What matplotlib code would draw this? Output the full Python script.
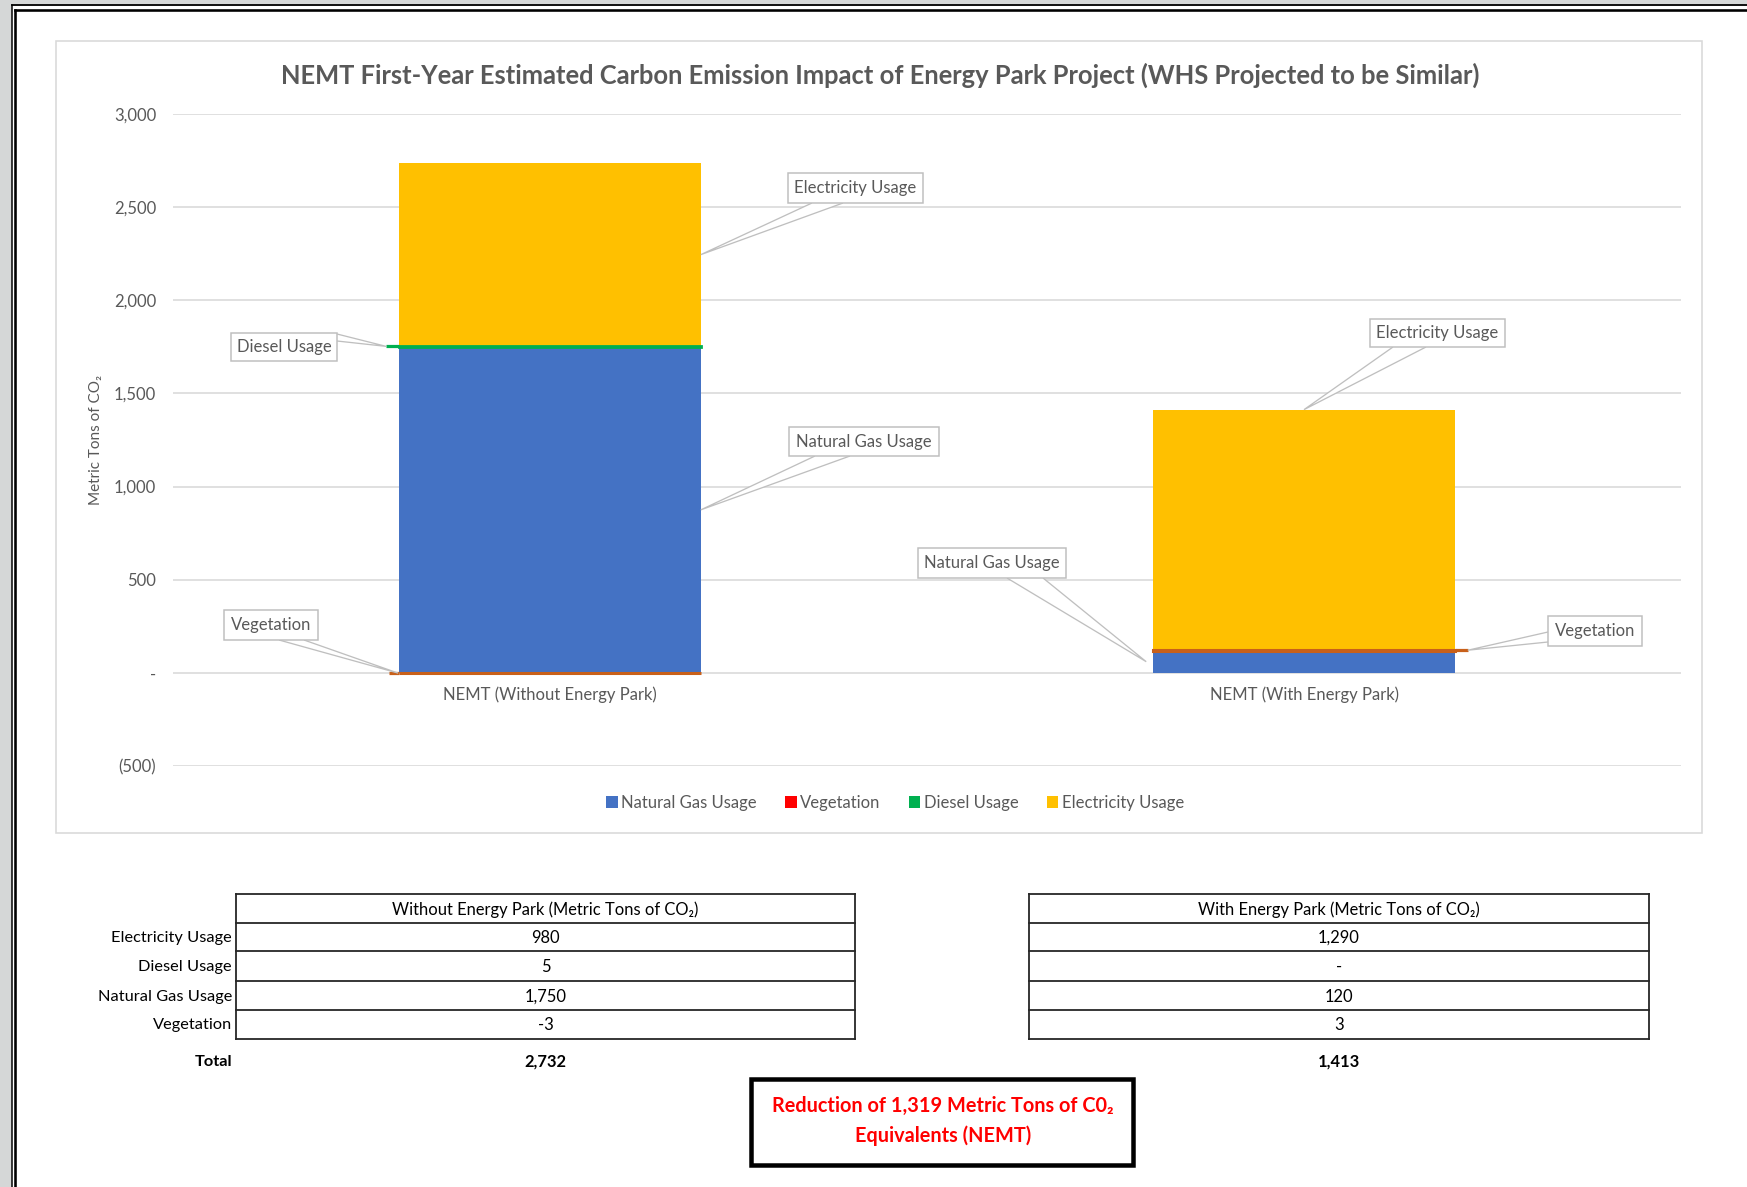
import matplotlib
matplotlib.use("Agg")
import matplotlib.pyplot as plt
from matplotlib.patches import Rectangle, Polygon, Patch
from matplotlib.lines import Line2D

plt.rcParams['font.family'] = ['Lato', 'DejaVu Sans']

# ---------------- data ----------------
categories = ["NEMT (Without Energy Park)", "NEMT (With Energy Park)"]
series_names = ["Natural Gas Usage", "Vegetation", "Diesel Usage", "Electricity Usage"]
natural_gas = [1750, 120]
vegetation = [-3, 3]
diesel = [5, 0]
electricity = [980, 1290]
yticks = [-500, 0, 500, 1000, 1500, 2000, 2500, 3000]

table_rows = ["Electricity Usage", "Diesel Usage", "Natural Gas Usage", "Vegetation"]
table_without = ["980", "5", "1,750", "-3"]
table_with = ["1,290", "-", "120", "3"]
table_totals = ["2,732", "1,413"]
table_headers = ["Without Energy Park (Metric Tons of CO\u2082)", "With Energy Park (Metric Tons of CO\u2082)"]
title = "NEMT First-Year Estimated Carbon Emission Impact of Energy Park Project (WHS Projected to be Similar)"
note_lines = ["Reduction of 1,319 Metric Tons of C0\u2082", "Equivalents (NEMT)"]

# ---------------- styles ----------------
C_NG, C_VEG, C_VEG_EDGE, C_DIE, C_ELEC = "#4472C4", "#FF0000", "#C8601A", "#00B050", "#FFC000"
GRAY_TXT = "#595959"
GRID = "#D9D9D9"

W, H = 1747, 1187
fig = plt.figure(figsize=(W / 100, H / 100), dpi=100)
fig.patch.set_facecolor("#D5D7D7")


def fx(x):
    return x / W


def fy(y):
    return 1 - y / H


def px2pt(p):
    return p * 0.72


# page + frame
fig.add_artist(Rectangle((fx(12), fy(H + 20)), fx(W + 20) - fx(12), fy(6) - fy(H + 20),
                         transform=fig.transFigure, facecolor="white", edgecolor="none", zorder=-10))
fig.add_artist(Line2D([fx(11.5), fx(11.5)], [fy(4.5), fy(H + 10)], transform=fig.transFigure,
                      color="black", lw=px2pt(1.5), zorder=-9))
fig.add_artist(Line2D([fx(11.5), fx(W + 10)], [fy(5), fy(5)], transform=fig.transFigure,
                      color="black", lw=px2pt(1.8), zorder=-9))
fig.add_artist(Line2D([fx(15), fx(15)], [fy(9.5), fy(H + 10)], transform=fig.transFigure,
                      color="black", lw=px2pt(2.6), zorder=-9))
fig.add_artist(Line2D([fx(15), fx(W + 10)], [fy(9.5), fy(9.5)], transform=fig.transFigure,
                      color="black", lw=px2pt(2.6), zorder=-9))

# chart area border
fig.add_artist(Rectangle((fx(56), fy(833)), fx(1702) - fx(56), fy(41) - fy(833),
                         transform=fig.transFigure, facecolor="none", edgecolor=GRID,
                         lw=px2pt(1.6), zorder=-5))

# ---------------- axes ----------------
ax_l, ax_r, ax_t, ax_b = 173, 1681, 114, 766
ax = fig.add_axes([fx(ax_l), fy(ax_b), fx(ax_r) - fx(ax_l), fy(ax_t) - fy(ax_b)])
ax.set_facecolor("none")
x = [0, 1]
bw = 0.4

pos_base = [max(v, 0) for v in vegetation]
veg_bottom = [ng if v > 0 else 0 for ng, v in zip(natural_gas, vegetation)]
die_bottom = [ng + pb for ng, pb in zip(natural_gas, pos_base)]
elec_bottom = [d + db for d, db in zip(diesel, die_bottom)]

ax.bar(x, natural_gas, bw, color=C_NG, zorder=3, lw=0)
ax.bar(x, vegetation, bw, bottom=veg_bottom, color=C_VEG, edgecolor=C_VEG_EDGE,
       lw=[2.2 if v != 0 else 0 for v in vegetation], zorder=4)
ax.bar(x, diesel, bw, bottom=die_bottom, color=C_DIE, edgecolor=C_DIE,
       lw=[2.0 if d != 0 else 0 for d in diesel], zorder=4)
ax.bar(x, electricity, bw, bottom=elec_bottom, color=C_ELEC, zorder=3, lw=0)

ax.set_xlim(-0.5, 1.5)
ax.set_ylim(-500, 3000)
ax.set_yticks(yticks)


def yfmt(v):
    if v == 0:
        return "-"
    if v < 0:
        return "({:,.0f})".format(-v)
    return "{:,.0f}".format(v)


ax.set_yticklabels([yfmt(v) for v in yticks])
ax.grid(axis="y", color=GRID, lw=px2pt(1.6), zorder=0)
for s in ax.spines.values():
    s.set_visible(False)
ax.spines["bottom"].set_position(("data", 0))
ax.set_xticks(x)
ax.set_xticklabels(categories)
ax.tick_params(axis="both", length=0, colors=GRAY_TXT, labelsize=12)
ax.tick_params(axis="y", pad=12)
ax.tick_params(axis="x", pad=10)

fig.text(fx(96), fy(440), "Metric Tons of CO\u2082", rotation=90, ha="center", va="center",
         color=GRAY_TXT, fontsize=11)
fig.text(fx(880), fy(75), title, ha="center", va="center", color=GRAY_TXT, fontsize=18.4,
         fontweight="bold")

handles = [Patch(facecolor=c, edgecolor="none") for c in (C_NG, C_VEG, C_DIE, C_ELEC)]
fig.legend(handles, series_names, loc="center", bbox_to_anchor=(fx(895), fy(803)), ncol=4,
           frameon=False, fontsize=12, handlelength=0.7, handleheight=0.7, handletextpad=0.2,
           columnspacing=1.7, labelcolor=GRAY_TXT)


# ---------------- callouts ----------------
def data_px(xd, yd, dxp=0.0):
    dx, dy = ax.transData.transform((xd, yd))
    return dx + dxp, H - dy


def callout(label, box, base, anchor):
    x0, y0, x1, y1 = box
    fig.add_artist(Polygon([(fx(base[0][0]), fy(base[0][1])), (fx(anchor[0]), fy(anchor[1])),
                            (fx(base[1][0]), fy(base[1][1]))], closed=False,
                           transform=fig.transFigure, facecolor="white", edgecolor="#BFBFBF",
                           lw=px2pt(1.3), zorder=6))
    fig.add_artist(Rectangle((fx(x0), fy(y1)), fx(x1) - fx(x0), fy(y0) - fy(y1),
                             transform=fig.transFigure, facecolor="white", edgecolor="#BFBFBF",
                             lw=px2pt(1.5), zorder=7))
    fig.text(fx((x0 + x1) / 2), fy((y0 + y1) / 2), label, ha="center", va="center",
             color=GRAY_TXT, fontsize=12, zorder=8)


def stub(p_from, p_to, color):
    fig.add_artist(Line2D([fx(p_from[0]), fx(p_to[0])], [fy(p_from[1]), fy(p_to[1])],
                          transform=fig.transFigure, color=color, lw=px2pt(3.2), zorder=5,
                          solid_capstyle="butt"))


# bar 1 (without energy park)
b1l, b1r = x[0] - bw / 2, x[0] + bw / 2
callout("Electricity Usage", (788, 173, 923, 203), [(812, 203), (843, 203)],
        data_px(b1r, elec_bottom[0] + electricity[0] / 2))
callout("Natural Gas Usage", (789, 427, 939, 456), [(815, 456), (850, 456)],
        data_px(b1r, natural_gas[0] / 2))
a = data_px(b1l, die_bottom[0] + diesel[0] / 2, -13)
stub(a, data_px(b1l, die_bottom[0] + diesel[0] / 2), C_DIE)
callout("Diesel Usage", (231, 333, 337, 361), [(337, 334), (337, 341)], a)
a = data_px(b1l, veg_bottom[0] + vegetation[0] / 2, -10)
stub(a, data_px(b1l, veg_bottom[0] + vegetation[0] / 2), C_VEG_EDGE)
callout("Vegetation", (224, 610, 318, 640), [(279, 640), (304, 640)],
        data_px(b1l, veg_bottom[0] + vegetation[0] / 2, -1))

# bar 2 (with energy park)
b2l, b2r = x[1] - bw / 2, x[1] + bw / 2
callout("Electricity Usage", (1370, 319, 1505, 347), [(1393, 347), (1426, 347)],
        data_px(x[1], elec_bottom[1] + electricity[1]))
a = data_px(b2r, veg_bottom[1] + vegetation[1] / 2, 13)
stub(data_px(b2r, veg_bottom[1] + vegetation[1] / 2), a, C_VEG_EDGE)
callout("Vegetation", (1548, 616, 1642, 646), [(1548, 632), (1548, 642)], a)
callout("Natural Gas Usage", (918, 548, 1066, 578), [(1007, 578), (1043, 578)],
        data_px(b2l, natural_gas[1] / 2, -7))

# ---------------- tables ----------------
row_lines = [894, 923, 951, 981, 1010, 1039]
tables = [(236, 855, table_without, table_totals[0], table_headers[0]),
          (1029, 1649, table_with, table_totals[1], table_headers[1])]
for (tl, tr, vals, tot, head) in tables:
    for yl in row_lines:
        fig.add_artist(Line2D([fx(tl), fx(tr)], [fy(yl), fy(yl)], transform=fig.transFigure,
                              color="#262626", lw=px2pt(1.8)))
    for xl in (tl, tr):
        fig.add_artist(Line2D([fx(xl), fx(xl)], [fy(row_lines[0]), fy(row_lines[-1])],
                              transform=fig.transFigure, color="#262626", lw=px2pt(1.8)))
    cx = (tl + tr) / 2
    fig.text(fx(cx), fy((row_lines[0] + row_lines[1]) / 2 + 1), head, ha="center", va="center",
             fontsize=11.9, color="black")
    for i, v in enumerate(vals):
        fig.text(fx(cx), fy((row_lines[i + 1] + row_lines[i + 2]) / 2 + 1), v, ha="center",
                 va="center", fontsize=11.9, color="black")
    fig.text(fx(cx), fy(1062), tot, ha="center", va="center", fontsize=11.9, color="black",
             fontweight="bold")

for i, r in enumerate(table_rows):
    fig.text(fx(232), fy((row_lines[i + 1] + row_lines[i + 2]) / 2 + 1), r, ha="right",
             va="center", fontsize=11.8, color="black")
fig.text(fx(232), fy(1062), "Total", ha="right", va="center", fontsize=11.8, color="black",
         fontweight="bold")

# reduction note box
fig.add_artist(Rectangle((fx(751), fy(1165)), fx(1133) - fx(751), fy(1079) - fy(1165),
                         transform=fig.transFigure, facecolor="white", edgecolor="black",
                         lw=px2pt(4.5), zorder=3))
fig.text(fx(943), fy(1106), note_lines[0], ha="center", va="center", fontsize=14.3,
         color="#FF0000", fontweight="bold", zorder=4)
fig.text(fx(943), fy(1136), note_lines[1], ha="center", va="center", fontsize=14.3,
         color="#FF0000", fontweight="bold", zorder=4)

fig.savefig("out.png", dpi=100, facecolor=fig.get_facecolor())
